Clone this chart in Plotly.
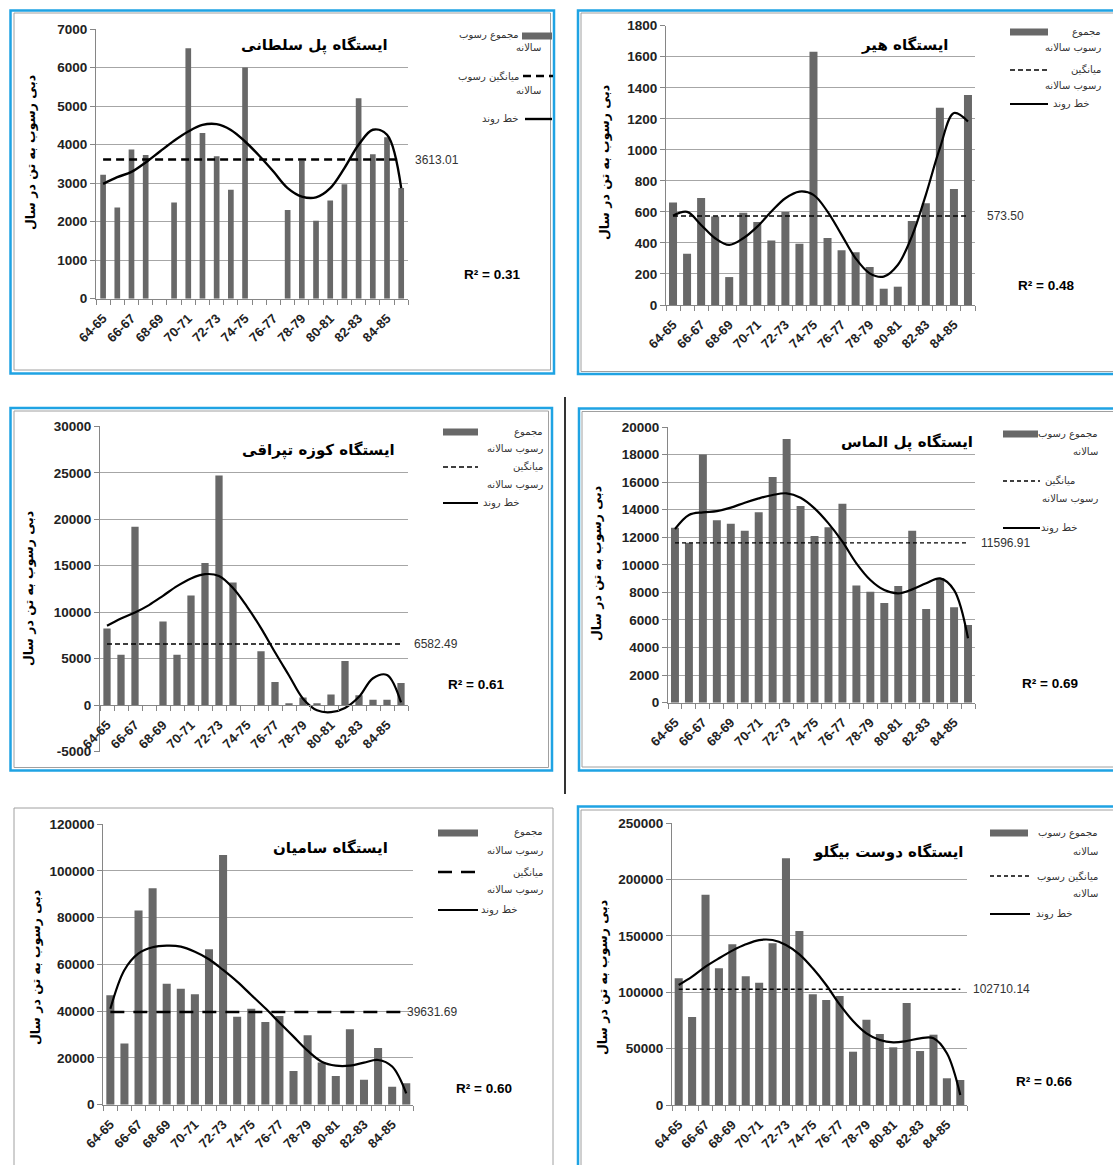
import plotly.graph_objects as go

W, H = 1113, 1165

# ---------------- data ----------------
years = ["64-65", "65-66", "66-67", "67-68", "68-69", "69-70", "70-71", "71-72",
         "72-73", "73-74", "74-75", "75-76", "76-77", "77-78", "78-79", "79-80",
         "80-81", "81-82", "82-83", "83-84", "84-85", "85-86"]

stations = ["ایستگاه پل سلطانی", "ایستگاه هیر", "ایستگاه کوزه تپراقی",
            "ایستگاه پل الماس", "ایستگاه سامیان", "ایستگاه دوست بیگلو"]

# annual sediment load (ton / year); None = no record
sed_pol_soltani = [3220, 2370, 3870, 3730, None, 2500, 6500, 4300, 3700, 2830, 6000,
                   None, None, 2300, 3580, 2020, 2550, 2970, 5200, 3750, 4190, 2870]
sed_hir = [660, 330, 690, 570, 180, 595, 535, 415, 600, 395, 1632,
           432, 353, 340, 245, 105, 118, 542, 656, 1271, 748, 1353]
sed_kuze_topraghi = [8250, 5430, 19200, None, 9000, 5430, 11800, 15300, 24700, 13200, None,
                     5800, 2500, 180, 820, 210, 1140, 4750, 1070, 600, 600, 2390]
sed_pol_almas = [12700, 11600, 18000, 13230, 12990, 12480, 13810, 16370, 19130, 14270, 12090,
                 12720, 14440, 8510, 8050, 7230, 8460, 12480, 6800, 9020, 6920, 5630]
sed_samian = [46800, 26200, 83000, 92500, 51700, 49600, 47200, 66500, 106800, 37600, 41000,
              35350, 37900, 14400, 29650, 18000, 12260, 32220, 10690, 24230, 7700, 9120]
sed_doost_beiglu = [112400, 78100, 186700, 121300, 142600, 114200, 108600, 143500, 218900, 154400, 98200,
                    93200, 96700, 47300, 75700, 63000, 51200, 90500, 47900, 62400, 23700, 22200]

# polynomial trend line values at each year
trend_pol_soltani = [2980, 3155, 3290, 3535, 3820, 4100, 4340, 4510, 4530, 4380, 4080,
                     3710, 3300, 2870, 2650, 2630, 2870, 3390, 3995, 4385, 4255, 2870]
trend_hir = [576, 600, 516, 430, 387, 430, 505, 602, 688, 731, 710,
             602, 452, 301, 204, 183, 258, 441, 710, 1011, 1237, 1183]
trend_kuze_topraghi = [8540, 9330, 9980, 10770, 11770, 12810, 13640, 14100, 13900, 12600, 10600,
                       8300, 5700, 3200, 700, -550, -750, -300, 900, 2900, 3250, 300]
trend_pol_almas = [12600, 13620, 13810, 13900, 14150, 14510, 14820, 15070, 15190, 14870, 14100,
                   13010, 11680, 10110, 8900, 8170, 7930, 8220, 8660, 9020, 8170, 4670]
trend_samian = [41000, 57600, 64700, 67300, 68000, 67600, 65400, 62200, 57600, 52600, 46900,
                41200, 35100, 29100, 23100, 18400, 16700, 16700, 18000, 19100, 16300, 4850]
trend_doost_beiglu = [106500, 113900, 122800, 130200, 137000, 142600, 146400, 146400, 142000, 133700, 121300,
                      106500, 89300, 74600, 63600, 57700, 55600, 56800, 59200, 59200, 45900, 8900]

mean_values = [3613.01, 573.50, 6582.49, 11596.91, 39631.69, 102710.14]
mean_labels = ["3613.01", "573.50", "6582.49", "11596.91", "39631.69", "102710.14"]
r_squared = ["0.31", "0.48", "0.61", "0.69", "0.60", "0.66"]

y_tick_sets = [
    [0, 1000, 2000, 3000, 4000, 5000, 6000, 7000],
    [0, 200, 400, 600, 800, 1000, 1200, 1400, 1600, 1800],
    [-5000, 0, 5000, 10000, 15000, 20000, 25000, 30000],
    [0, 2000, 4000, 6000, 8000, 10000, 12000, 14000, 16000, 18000, 20000],
    [0, 20000, 40000, 60000, 80000, 100000, 120000],
    [0, 50000, 100000, 150000, 200000, 250000],
]

y_title = "دبی رسوب به تن در سال"
legend_bar = "مجموع رسوب سالانه"
legend_mean = "میانگین رسوب سالانه"
legend_trend = "خط روند"

sediment = [sed_pol_soltani, sed_hir, sed_kuze_topraghi, sed_pol_almas, sed_samian, sed_doost_beiglu]
trends = [trend_pol_soltani, trend_hir, trend_kuze_topraghi, trend_pol_almas, trend_samian, trend_doost_beiglu]

# ---------------- layout geometry (pixels) ----------------
BAR = "#686868"
GRID = "#A6A6A6"
AXIS = "#868686"
BLUE = "#1FA3E3"
NUM_FONT = "Liberation Sans"
FA_FONT = "DejaVu Sans"

geom = [
    dict(x=(96, 408.3), y=(298.7, 29.0), barw=0.4, mean_dash="8px,5px", mean_w=2.6, trend_w=2.4,
         mean_end=21, label_x=413, r2=(492, 274), title=(390, 45), ytitle=(30, 153)),
    dict(x=(666, 975), y=(305.0, 25.7), barw=0.57, mean_dash="5px,3px", mean_w=1.6, trend_w=2.2,
         mean_end=21, label_x=985, r2=(1046, 285), title=(950, 45), ytitle=(605, 163)),
    dict(x=(100, 408), y=(751.7, 426.3), barw=0.52, mean_dash="5px,3px", mean_w=1.5, trend_w=2.2,
         mean_end=21, label_x=412, r2=(476, 684), title=(397, 450), ytitle=(28, 589)),
    dict(x=(668, 975), y=(702.7, 427.0), barw=0.57, mean_dash="4px,3px", mean_w=1.3, trend_w=2.2,
         mean_end=21, label_x=979, r2=(1050, 683), title=(975, 442), ytitle=(596, 564)),
    dict(x=(103.3, 413.3), y=(1104.7, 824.0), barw=0.57, mean_dash="14px,9px", mean_w=2.6, trend_w=2.2,
         mean_end=20.7, label_x=405, r2=(484, 1088), title=(390, 848), ytitle=(35, 968)),
    dict(x=(672, 967), y=(1105.0, 823.3), barw=0.6, mean_dash="4px,3px", mean_w=1.3, trend_w=2.2,
         mean_end=21, label_x=971, r2=(1044, 1081), title=(965, 852), ytitle=(602, 978)),
]


def fx(px):
    return px / W


def fy(py):
    return 1 - py / H


idx = list(range(len(years)))
fig = go.Figure()
annotations = []
shapes = []

for i, g in enumerate(geom):
    n = "" if i == 0 else str(i + 1)
    xa, ya = "x" + n, "y" + n
    ticks = y_tick_sets[i]

    fig.add_trace(go.Bar(x=idx, y=sediment[i], xaxis=xa, yaxis=ya, width=g["barw"],
                         marker=dict(color=BAR, line=dict(width=0)), showlegend=False))
    fig.add_trace(go.Scatter(x=[idx[0], g["mean_end"]], y=[mean_values[i], mean_values[i]],
                             xaxis=xa, yaxis=ya, mode="lines", showlegend=False,
                             line=dict(color="black", width=g["mean_w"], dash=g["mean_dash"])))
    fig.add_trace(go.Scatter(x=idx, y=trends[i], xaxis=xa, yaxis=ya, mode="lines", showlegend=False,
                             line=dict(color="black", width=g["trend_w"], shape="spline", smoothing=1.0)))

    xaxis = dict(domain=[fx(g["x"][0]), fx(g["x"][1])], range=[-0.5, len(years) - 0.5],
                 tickmode="array", tickvals=idx[::2], ticktext=years[::2], tickangle=-45,
                 ticks="outside", ticklen=6, tickcolor="rgba(0,0,0,0)",
                 tickfont=dict(family=NUM_FONT, size=13, color="#222", weight="bold"),
                 showline=True, linecolor=AXIS, linewidth=1, showgrid=False, zeroline=False,
                 minor=dict(tickmode="array", tickvals=[k - 0.5 for k in range(len(years) + 1)],
                            ticks="outside", ticklen=5, tickcolor=AXIS, showgrid=False),
                 automargin=False, fixedrange=True)
    if i == 2:
        zero_px = g["y"][0] - (0 - ticks[0]) / (ticks[-1] - ticks[0]) * (g["y"][0] - g["y"][1])
        xaxis.update(anchor="free", position=fy(zero_px))
    else:
        xaxis.update(anchor=ya)
    yaxis = dict(domain=[fy(g["y"][0]), fy(g["y"][1])], range=[ticks[0], ticks[-1]],
                 tickmode="array", tickvals=ticks, ticktext=[str(t) for t in ticks],
                 tickfont=dict(family=NUM_FONT, size=13.5, color="#222", weight="bold"),
                 ticks="outside", ticklen=5, tickcolor=AXIS,
                 showline=True, linecolor=AXIS, linewidth=1,
                 showgrid=True, gridcolor=GRID, gridwidth=1, zeroline=False,
                 anchor=xa, automargin=False, fixedrange=True)
    fig.layout["xaxis" + n] = xaxis
    fig.layout["yaxis" + n] = yaxis

    # station title
    annotations.append(dict(x=fx(g["title"][0]), y=fy(g["title"][1]), xref="paper", yref="paper",
                            text="<b>%s</b>" % stations[i], showarrow=False, xanchor="right",
                            yanchor="middle", font=dict(family=FA_FONT, size=15, color="black")))
    # y-axis title
    annotations.append(dict(x=fx(g["ytitle"][0]), y=fy(g["ytitle"][1]), xref="paper", yref="paper",
                            text="<b>%s</b>" % y_title, showarrow=False, textangle=-90,
                            xanchor="center", yanchor="middle",
                            font=dict(family=FA_FONT, size=12.5, color="black")))
    # mean value label
    annotations.append(dict(x=fx(g["label_x"]), y=mean_values[i], xref="paper", yref=ya,
                            text=mean_labels[i], showarrow=False, xanchor="left", yanchor="middle",
                            font=dict(family=NUM_FONT, size=12, color="#333")))
    # R squared
    annotations.append(dict(x=fx(g["r2"][0]), y=fy(g["r2"][1]), xref="paper", yref="paper",
                            text="<b>R² = %s</b>" % r_squared[i], showarrow=False,
                            xanchor="center", yanchor="middle",
                            font=dict(family=NUM_FONT, size=13.5, color="black")))

# ---------------- legends (symbol boxes + wrapped Persian text) ----------------
# each entry: (kind, x0, x1, y, [(text, right_x, y), ...])
bar_words = legend_bar.split(" ")
mean_words = legend_mean.split(" ")
legends = [
    [("bar", 522, 552, 36, [(" ".join(bar_words[:2]), 521, 35), (bar_words[2], 543, 48)]),
     ("mean", 523, 553, 76, [(" ".join(mean_words[:2]), 521, 76), (mean_words[2], 543, 90)]),
     ("trend", 525, 552, 119, [(legend_trend, 521, 119)])],
    [("bar", 1010, 1048, 32, [(bar_words[0], 1103, 32), (" ".join(bar_words[1:]), 1103, 48)]),
     ("mean", 1010, 1048, 70, [(mean_words[0], 1103, 70), (" ".join(mean_words[1:]), 1103, 86)]),
     ("trend", 1010, 1048, 104, [(legend_trend, 1092, 104)])],
    [("bar", 443, 478, 432, [(bar_words[0], 545, 432), (" ".join(bar_words[1:]), 545, 449)]),
     ("mean", 443, 478, 467, [(mean_words[0], 545, 467), (" ".join(mean_words[1:]), 545, 484)]),
     ("trend", 443, 478, 503, [(legend_trend, 522, 503)])],
    [("bar", 1003, 1038, 434, [(" ".join(bar_words[:2]), 1100, 434), (bar_words[2], 1100, 451)]),
     ("mean", 1003, 1040, 481, [(mean_words[0], 1077, 481), (" ".join(mean_words[1:]), 1100, 498)]),
     ("trend", 1003, 1040, 528, [(legend_trend, 1080, 528)])],
    [("bar", 438, 478, 833, [(bar_words[0], 545, 832), (" ".join(bar_words[1:]), 545, 850)]),
     ("mean", 438, 478, 872, [(mean_words[0], 545, 872), (" ".join(mean_words[1:]), 545, 889)]),
     ("trend", 438, 478, 910, [(legend_trend, 520, 910)])],
    [("bar", 990, 1028, 833, [(" ".join(bar_words[:2]), 1100, 833), (bar_words[2], 1100, 851)]),
     ("mean", 990, 1030, 876, [(" ".join(mean_words[:2]), 1100, 876), (mean_words[2], 1100, 893)]),
     ("trend", 990, 1030, 914, [(legend_trend, 1075, 914)])],
]

for i, entries in enumerate(legends):
    g = geom[i]
    for kind, x0, x1, y, lines in entries:
        if kind == "bar":
            shapes.append(dict(type="rect", xref="paper", yref="paper", x0=fx(x0), x1=fx(x1),
                               y0=fy(y + 3.5), y1=fy(y - 3.5), fillcolor=BAR, line=dict(width=0)))
        else:
            dash = g["mean_dash"] if kind == "mean" else "solid"
            width = g["mean_w"] if kind == "mean" else g["trend_w"]
            shapes.append(dict(type="line", xref="paper", yref="paper", x0=fx(x0), x1=fx(x1),
                               y0=fy(y), y1=fy(y), line=dict(color="black", width=width, dash=dash)))
        for text, rx, ty in lines:
            annotations.append(dict(x=fx(rx), y=fy(ty), xref="paper", yref="paper", text=text,
                                    showarrow=False, xanchor="right", yanchor="middle",
                                    font=dict(family=FA_FONT, size=10, color="#333")))

# ---------------- panel frames ----------------
frames = [
    ((10.5, 10.5, 554, 373.5), (14, 13, 550.5, 370)),
    ((578, 10.5, 1125, 374), (581, 13, 1125, 371.5)),
    ((10.5, 408, 552, 770.5), (14, 411, 548.5, 767.5)),
    ((579, 408.5, 1125, 770.5), (582, 411.5, 1125, 767)),
    (None, (14, 808, 553, 1180)),
    ((578, 806.5, 1125, 1180), (581, 810, 1125, 1180)),
]
for blue, gray in frames:
    if blue:
        shapes.append(dict(type="rect", xref="paper", yref="paper", x0=fx(blue[0]), y0=fy(blue[1]),
                           x1=fx(blue[2]), y1=fy(blue[3]), line=dict(color=BLUE, width=2.5),
                           fillcolor="rgba(0,0,0,0)", layer="below"))
    shapes.append(dict(type="rect", xref="paper", yref="paper", x0=fx(gray[0]), y0=fy(gray[1]),
                       x1=fx(gray[2]), y1=fy(gray[3]), line=dict(color="#A0A0A0", width=1),
                       fillcolor="rgba(0,0,0,0)", layer="below"))
# divider between the middle pair of charts
shapes.append(dict(type="line", xref="paper", yref="paper", x0=fx(565), x1=fx(565),
                   y0=fy(397), y1=fy(794), line=dict(color="black", width=1.6)))

fig.update_layout(width=W, height=H, margin=dict(l=0, r=0, t=0, b=0, pad=0, autoexpand=False),
                  paper_bgcolor="white", plot_bgcolor="white", showlegend=False,
                  annotations=annotations, shapes=shapes, barmode="overlay")

fig.write_html("out.html")
